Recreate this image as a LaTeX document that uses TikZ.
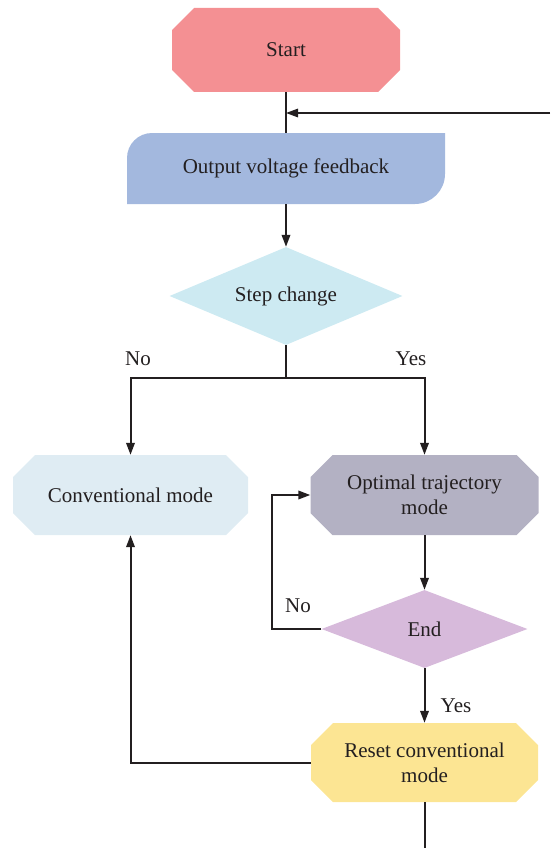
\documentclass[tikz,border=0pt]{standalone}
\usepackage{fontspec}
\setmainfont{Liberation Serif}
\usetikzlibrary{shapes.geometric,arrows.meta,calc}
\definecolor{txt}{HTML}{231F20}
\definecolor{startc}{HTML}{F49093}
\definecolor{outc}{HTML}{A3B8DE}
\definecolor{stepc}{HTML}{CDEAF2}
\definecolor{convc}{HTML}{DFECF3}
\definecolor{optc}{HTML}{B3B1C3}
\definecolor{endc}{HTML}{D7BADB}
\definecolor{resetc}{HTML}{FCE593}
\tikzset{
  every node/.style={text=txt, font=\fontsize{21}{25}\selectfont},
  octa/.style={rectangle, inner sep=0pt, align=center,
    path picture={\fill[#1]
      ($(path picture bounding box.north west)+(22pt,0pt)$) --
      ($(path picture bounding box.north east)+(-22pt,0pt)$) --
      ($(path picture bounding box.north east)+(0pt,-22pt)$) --
      ($(path picture bounding box.south east)+(0pt,22pt)$) --
      ($(path picture bounding box.south east)+(-22pt,0pt)$) --
      ($(path picture bounding box.south west)+(22pt,0pt)$) --
      ($(path picture bounding box.south west)+(0pt,22pt)$) --
      ($(path picture bounding box.north west)+(0pt,-22pt)$) -- cycle;}},
  decision/.style={diamond, fill=#1, inner sep=0pt, aspect=2.4},
  conn/.style={draw=txt, line width=2pt},
  thin/.style={draw=txt, line width=1.4pt},
  arr/.style={-{Triangle[length=12pt,width=8.5pt]}},
  lbl/.style={inner sep=0pt}
}
\begin{document}
\begin{tikzpicture}[x=1pt,y=-1pt]
\useasboundingbox (0,0) rectangle (550,848);
% output box background
\fill[outc] (127,204) -- (127,158) arc[start angle=180, end angle=90, radius=25pt]
  -- (445,133) -- (445,174) arc[start angle=0, end angle=-90, radius=30pt] -- cycle;
% nodes
\node[octa=startc, minimum width=228pt, minimum height=84pt] (start) at (286,50) {Start};
\node[rectangle, inner sep=0pt, minimum width=318pt, minimum height=71pt] (out) at (286,168.5) {Output voltage feedback};
\node[decision=stepc, minimum width=233pt, minimum height=98pt] (step) at (286,296) {Step change};
\node[octa=convc, minimum width=235pt, minimum height=80pt] (conv) at (130.5,495) {Conventional mode};
\node[octa=optc, minimum width=228pt, minimum height=80pt] (opt) at (424.5,495) {Optimal trajectory\\mode};
\node[decision=endc, minimum width=206pt, minimum height=78pt] (end) at (424.5,629) {End};
\node[octa=resetc, minimum width=227pt, minimum height=79pt] (reset) at (424.5,762.5) {Reset conventional\\mode};
\coordinate (fb) at (550,113);
\coordinate (split) at (286,378);
\coordinate (bot) at (424.5,848);
% connectors
\draw[conn] (start.south) -- (out.north);
\draw[thin,arr] (fb) -- (fb -| start.south);
\draw[conn,arr] (out.south) -- (step.north);
\draw[thin] (step.south) -- (split);
\draw[conn,arr] (split) -| (conv.north);
\draw[conn,arr] (split) -| (opt.north);
\draw[conn,arr] (opt.south) -- (end.north);
\draw[conn,arr] (end.west) -- ++(-49,0) |- (opt.west);
\draw[conn,arr] (end.south) -- (reset.north);
\draw[conn,arr] (reset.west) -| (conv.south);
\draw[conn] (reset.south) -- (bot);
% labels
\node[lbl] (lno1) at (138,359) {No};
\node[lbl] (lyes1) at (411,359) {Yes};
\node[lbl] (lno2) at (298,606) {No};
\node[lbl] (lyes2) at (456,706) {Yes};
\end{tikzpicture}
\end{document}
